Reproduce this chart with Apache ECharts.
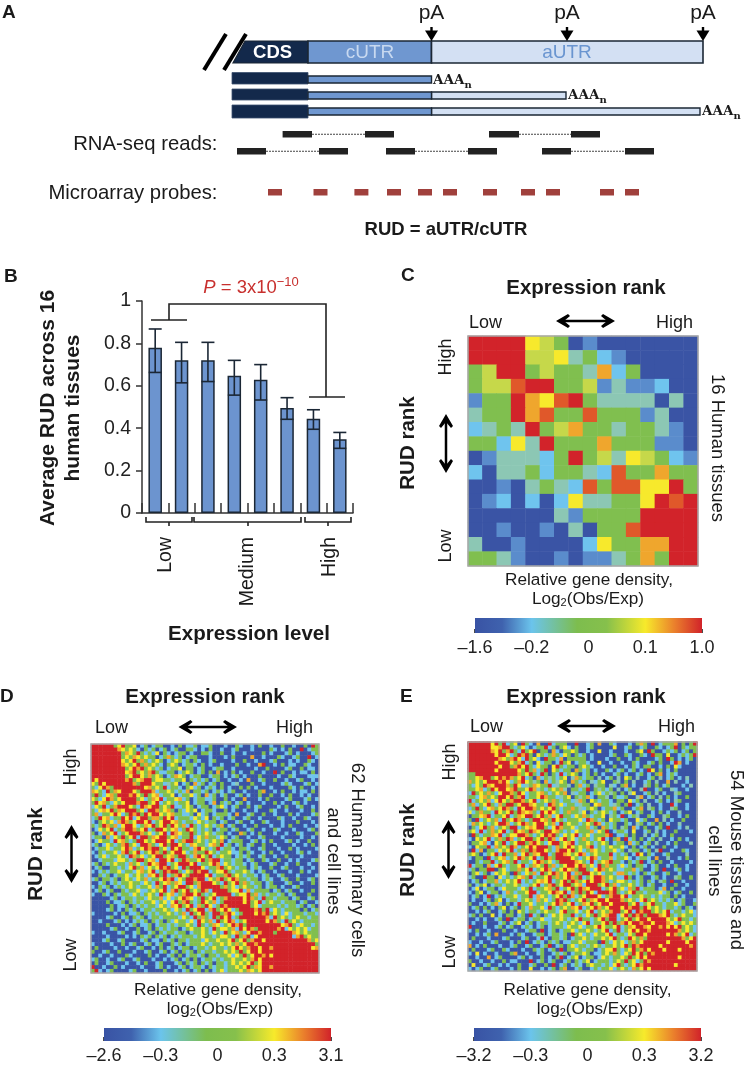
<!DOCTYPE html>
<html><head><meta charset="utf-8">
<style>html,body{margin:0;padding:0;background:#fff}#c{width:746px;height:1065px}</style>
<script src="https://cdn.jsdelivr.net/npm/echarts@6/dist/echarts.min.js"></script>
</head><body><div id="c"></div>
<script>
// ---------- Panel B data ----------
const barCategories = ['1','2','3','4','5','6','7','8'];
const rudMeans = [0.78,0.72,0.72,0.647,0.628,0.495,0.445,0.348];
const rudLow   = [0.663,0.614,0.62,0.556,0.533,0.442,0.395,0.305];
const rudHigh  = [0.868,0.805,0.805,0.72,0.70,0.544,0.487,0.38];
const yTicksB = [0,0.2,0.4,0.6,0.8,1];

// ---------- Panel A schematic, along-transcript coordinates ----------
const pASites = [431.5,567,703];
const readsTop = [[282.6,312,365,394],[489,519,571,600]];
const readsBottom = [[237,266,319,348],[386,415,468,497],[542,571,625,654]];
const probeStarts = [268,313.5,354.4,387,418,443,483,521,546,600,625];
const transcriptEnds = [431,566,700];

// ---------- Colour bar labels ----------
const barLabelsC = ['\u20131.6','\u20130.2','0','0.1','1.0'];
const barLabelsD = ['\u20132.6','\u20130.3','0','0.3','3.1'];
const barLabelsE = ['\u20133.2','\u20130.3','0','0.3','3.2'];

// ---------- Heat map cells: colour level 0 (lowest) .. 9 (highest), one string per row ----------
const heatC = [
'9999654010000000','9999556342100000','4599454437240000','4558994451311200',
'1449768943333030','3449784484441300','2343945744344310','4426394447444110',
'0133324945365421','2033424432844744','0010343284886694','0120202633446989',
'0000003144449999','0010010304489999','3001000026447799','4431001011347499'];
const heatD = [
'9999994694 4602402440 0204022402 2400020042 0020400200 4002004094',
'9999999764 6420424024 0240044202 0400200240 0020000420 2040090244',
'9999999947 6494242604 2024402004 4200400200 2000040200 0240200024',
'9999999946 4764644024 7424024400 0200020400 0070020004 2002400902',
'9999999964 6947424640 2464240420 0240000200 4002000240 0020200420',
'9999999976 4694746420 4640244204 0200200040 0200790020 4022004200',
'9999999994 6979464240 2446044024 0024400200 0002004000 0240040220',
'9999999996 7946479422 4402464024 0407020402 0040020090 4002022040',
'9999999994 6996474640 2476402440 0244020240 2000400002 0042000222',
'9699999997 9467994664 4244604242 4024002002 0700240040 0200240020',
'6496999999 9749996442 3460240724 0240400230 0040020000 2420002402',
'4269749999 9999674649 2442046240 2420402004 0402000200 0042040020',
'7642947699 9649997244 6424270442 4024202400 2000470020 4002022040',
'4942674999 7964946724 4602446240 7240240024 0200400400 2040020200',
'6426974699 9946247692 4467240244 2240040200 7000204000 0240002402',
'4967426469 9979946924 6424460244 0270424024 0200020040 2002402000',
'2649247999 6429769946 4922464024 4024620240 0402400002 0400240020',
'4267694769 9946299746 7404264602 4420040200 2002000420 0200020040',
'4724469624 9794969964 6744224062 4024442070 0240040020 0040200024',
'2496724496 9269947749 6924442642 6042402400 2400200004 2002004200',
'2046462797 4699692469 9674244264 2440240024 0020042000 2000400020',
'4249747269 9624769469 4964729424 6424702400 2004000200 2040002002',
'0264692479 9746924996 4672496424 2402440240 0240020042 0002000240',
'4027469246 9997462469 2976449424 6424402007 4020400020 0200420004',
'2440726494 6929947699 4672449264 7442640240 0200240000 2000020020',
'0264429674 2499646999 6924799464 2464702444 0024020400 0240200400',
'2402642479 4629974269 4996427644 2674924024 0240040020 0002002040',
'0244624469 7246979946 2969442796 4249244204 4200240002 0040200002',
'2042446279 4692469749 4699624744 9642446224 0420020400 2000240200',
'0246244642 9746246994 6749942796 4924644024 2400240020 0400020000',
'0024442664 2499467299 6924974469 4799244244 0240042004 0020200024',
'2404246442 7462496799 2469996924 4697264244 2024000240 0200400200',
'0240044242 6947264697 9462949996 2447946424 4024200400 2400020020',
'2024244624 4267469249 7994264979 9246694244 6420240020 0020040200',
'0042402446 2464276949 2479649999 6924479464 2442024002 4000200002',
'2404424046 4264724469 7926499799 2647946974 4244024200 2400400240',
'0024024244 6442642946 7476299479 9964294694 7424402400 0240020040',
'2042402424 6424462749 2469946279 9999474624 6442402440 2002400000',
'0240240042 4462246469 2794694649 7299994669 2724444024 0240020040',
'2004204244 2642464294 6724799694 2469999246 6947242442 4024000400',
'0000024024 4244264472 6246976249 4692479999 6974294424 4402400240',
'0000402240 4242446246 2694794249 6472499999 6946924644 2444024002',
'0000040224 0424244264 2769469274 9624979999 9946244442 4244240240',
'0000240204 2402442446 4264294699 2794696249 9997949264 2444404024',
'2000002040 2240424244 6424729469 4299479624 9996979464 2624442442',
'0000240024 0424024424 4442642947 4294969249 9999997294 6424644244',
'0020002402 0242404240 4264426296 4729469724 6999996974 2946424444',
'0000400020 2402240244 2424464294 2476246979 4999999999 6794264424',
'0000024002 0040240424 2440246446 4294664729 6974999997 9264646244',
'2002000240 0240024042 4424402446 4264294674 2699799949 9997646444',
'0000200002 0204240424 0242444246 4424664294 7926999999 9992794644',
'0002400240 0002402204 2404424442 6446446946 9479969999 9999999746',
'2000020040 2400240240 0424024446 4244646474 6997999999 9999999994',
'0400002002 0024002040 2402440244 2464424696 4799699799 9999999967',
'4002400400 0200240024 0240424042 4424464649 4699699999 9999999999',
'0020020004 2000040200 2404024424 0442446264 9469979699 9999999999',
'2400200240 0240002002 0240240402 4424244644 6479699999 9999999999',
'0400240002 0020400240 0024042404 2404424646 4694699999 9999999999',
'9002004020 0002000240 2002402442 0424424464 6947699799 9999999999',
'4920240000 2400200004 0020240240 4024624446 4764699999 9999999999'];
const heatE = [
'9999996949 2460942070 0924440090 0240700420 0020474090 2444704049',
'9999996679 9424620244 9240462040 0240000060 0240024004 2024904244',
'9999997694 7942946904 4072044640 0200600200 0200460940 0242402404',
'9999999699 6249794064 2474264042 4020000240 0420042094 4060024249',
'9999999976 4796294620 9442704444 4020002004 0020400002 4094020240',
'9999999699 9647924062 4402946024 4200600200 2004200240 4002970200',
'9999999969 9479694264 4069424404 6420020040 0204204400 2040620000',
'9999999699 9996494724 9064244074 2402004202 4024020960 4020400000',
'4499999999 9997469429 4042924640 2404020024 0200240204 7024200000',
'4467994697 9746924072 4342460374 2440302403 0640300240 3024020300',
'7464699979 6247964340 7243640742 4032460043 0403002403 0070300200',
'4264976999 7496234764 4923443047 2403440320 4702003404 0240002030',
'4467249699 6794469734 2464730442 4904342403 0240039002 4003200200',
'2946474269 9749624467 4246470324 4024624340 4036002403 0200340000',
'4426746499 6947924469 7442346043 4720443042 2400370240 3040200400',
'9246472696 4799746924 6474244237 4064244204 4062403002 4020340000',
'4724694274 9946997644 2974624423 4406744234 0490240300 2009200200',
'2494267469 7429699746 4694244743 2464024472 4002470340 2003400200',
'6247442964 6949767429 6964247443 6042464240 2460240020 4020030000',
'0446792446 9247699469 4726944264 7424460342 9024300420 0340020400',
'4092464729 4697424996 7496424446 2974240644 2400624007 0302004000',
'2746424699 7246974699 6472946442 4649724240 0420340240 4020030000',
'0426947246 4992467699 4269744624 4724074240 3407204002 4090020300',
'4629247469 2496749764 9967424264 4472649024 4206002403 0200400020',
'0942447692 4669974246 9794264692 4624447902 2404003024 0204000000',
'2064692474 9724699469 4972694624 7424692047 0924040240 3002040200',
'0446720649 2469947964 2699467924 4642464024 4072402403 0020400030',
'2064492746 4972469699 9427469646 4792424644 6204024020 0400200000',
'0927044264 6924749799 6427996946 2476424462 4034402403 9002004200',
'4640246929 4472694769 9249976469 7246444924 2402960420 0240000300',
'2044092467 2469746924 9749999642 4697244724 4620244207 0030020400',
'0042449246 7492442697 4624999976 4292467944 2042490240 4002000020',
'9244072694 2446924764 9472469969 7462947442 6240442024 0020400200',
'2404499046 2447469246 9724696749 9426974642 2447240024 0900240200',
'0462402646 4094264729 4697469274 9964624427 7424204240 0240020000',
'2400944062 4246749244 6947469749 2469974642 2940240024 0200340040',
'0240244724 6469242467 6924694974 6969974246 6424240420 3409002000',
'4024602442 4464224692 4794699467 2999469472 4464240240 0200400200',
'0260244026 4442649244 6749246949 7699924694 6274924440 2704002000',
'2046024402 7424469924 4697692749 4962999794 2469442444 6240240040',
'0240290242 4462449276 4246949724 6999624799 6924464424 2440402000',
'0200240460 2442464274 6249794246 9476996999 7464269464 2424024002',
'4002024720 4029446244 2469746924 7694699699 9946924694 4244624004',
'0240402046 0240427446 2942464769 2469746999 6979949646 4244240420',
'0020240024 0406424424 6442694462 4692464799 4692979946 4692442462',
'2404006020 4402409240 4264644924 2649467992 6949794999 7694246442',
'0020200240 9024402446 2244642469 4424694992 4694699699 9964694424',
'0200400024 0246024024 4246424642 6924469494 7969979969 9976246464',
'9000200240 2400242024 0244426446 2446964469 2476997699 7969694642',
'2040020004 0020024409 0240244624 4642469249 2469699799 9999974642',
'0020240700 0204200244 0244240946 2426446924 4264996999 9969746924',
'0400020002 4000240029 2044240244 6424464694 2496474999 9999997469',
'2002002400 0204090242 0424022446 2444094264 6247469999 9969999699',
'7020400020 0240024002 4902404624 4246424464 6949799999 6999999979',
'0400024004 2000200424 0240904464 2440246694 2469479699 9699969999',
'2060200200 0470020024 0024240244 6402246474 2649694979 9999999999',
'0020070240 0002402004 0204902460 2440264244 6494696999 9999969999',
'4002002004 0220009024 0240024042 4602444246 4946249799 9999999999',
'0600240020 2004002400 4090240242 0464424269 4246979999 9999699999',
'2024002400 0204006002 0240470024 0024244624 6427469699 9999999999'];

// ---------- Styling ----------
const levelColors = ['#3a54a5','#5a8ccc','#6fc4ee','#8cc7b4','#80bf4f','#c6d84a','#f7e92c','#efa62d','#e0582a','#d2232a'];
const gradientStops = [[0,'#3953a4'],[0.12,'#3f62ae'],[0.25,'#6bc4ec'],[0.45,'#7dbd4e'],[0.58,'#86c04c'],[0.75,'#f7ea2b'],[0.88,'#ea7f2c'],[1,'#d1232a']];
const FF = '"Liberation Sans", Arial, sans-serif';
const INK = '#1a1a1a';
const el = [];
const mctx = document.createElement('canvas').getContext('2d');
const fontStr = (s,b,i,f) => `${i?'italic ':''}${b?'bold ':''}${s}px ${f||FF}`;

function txt(x,y,t,size,o){o=o||{};
  el.push({type:'text',x,y,rotation:o.rot||0,z:50,silent:true,style:{text:t,font:fontStr(size,o.bold,o.italic,o.family),fill:o.color||INK,align:o.align||'center',verticalAlign:'middle'}});
}
function runs(x,y,list,o){o=o||{};
  let w=0; list.forEach(r=>{mctx.font=fontStr(r.size,r.bold,r.italic,r.family);r.w=mctx.measureText(r.t).width;w+=r.w;});
  let cx=(o.align==='left')?x:x-w/2;
  list.forEach(r=>{el.push({type:'text',x:cx,y:y+(r.dy||0),z:50,silent:true,style:{text:r.t,font:fontStr(r.size,r.bold,r.italic,r.family),fill:o.color||INK,align:'left',verticalAlign:'middle'}});cx+=r.w;});
}
function poly(points,width,color){el.push({type:'polyline',z:40,silent:true,shape:{points},style:{stroke:color||'#222',lineWidth:width,fill:'none',lineJoin:'miter'}});}
function filled(points,color){el.push({type:'polygon',z:40,silent:true,shape:{points},style:{fill:color||'#000'}});}
function arrowH(a,b,y){poly([[a+6,y],[b-6,y]],2.5,'#000');
  filled([[a,y],[a+12,y-7],[a+14,y-5],[a+8,y],[a+14,y+5],[a+12,y+7]]);
  filled([[b,y],[b-12,y-7],[b-14,y-5],[b-8,y],[b-14,y+5],[b-12,y+7]]);}
function arrowV(x,a,b){poly([[x,a+6],[x,b-6]],2.5,'#000');
  filled([[x,a],[x-7,a+12],[x-5,a+14],[x,a+8],[x+5,a+14],[x+7,a+12]]);
  filled([[x,b],[x-7,b-12],[x-5,b-14],[x,b-8],[x+5,b-14],[x+7,b-12]]);}
function frame(x,y,w,h){el.push({type:'rect',z:45,silent:true,shape:{x,y,width:w,height:h},style:{fill:'none',stroke:'#a8a8a8',lineWidth:1.5}});}

// ---------- Text and decoration: panel A ----------
txt(2,13,'A',19,{bold:true,align:'left'});
pASites.forEach(x=>txt(x,13,'pA',21));
txt(272.6,53,'CDS',18.5,{bold:true,color:'#ffffff'});
txt(370,53,'cUTR',19,{color:'#c8d9f0'});
txt(567,53,'aUTR',19,{color:'#6a95d0'});
poly([[226,34],[204,70]],4,'#000');
poly([[246,34],[224,70]],4,'#000');
const AAA='"DejaVu Serif", serif';
transcriptEnds.forEach((x,i)=>runs(x+2,80+i*15.5,[{t:'AAA',size:13.5,bold:true,family:AAA},{t:'n',size:10,bold:true,family:AAA,dy:5}],{align:'left'}));
txt(217.5,144,'RNA-seq reads:',20.3,{align:'right'});
txt(217.5,193,'Microarray probes:',20.3,{align:'right'});
txt(446,230,'RUD = aUTR/cUTR',18.5,{bold:true});

// ---------- Panel B ----------
txt(4,277,'B',19,{bold:true,align:'left'});
txt(48,408,'Average RUD across 16',21,{bold:true,rot:Math.PI/2});
txt(73,408,'human tissues',21,{bold:true,rot:Math.PI/2});
txt(249,634,'Expression level',20.5,{bold:true});
runs(251,288,[{t:'P',size:18.5,italic:true},{t:' = 3x10',size:18.5},{t:'\u221210',size:13,dy:-6}],{color:'#c8302e'});
poly([[151,320],[187,320]],1.6); poly([[169,320],[169,304],[326,304],[326,397]],1.6); poly([[309,397],[345,397]],1.6);
poly([[146,517],[146,522],[192,522],[192,517]],1.6); poly([[169,522],[169,526]],1.6);
poly([[194,517],[194,522],[301,522],[301,517]],1.6); poly([[248,522],[248,526]],1.6);
poly([[305,517],[305,522],[351,522],[351,517]],1.6); poly([[328,522],[328,526]],1.6);
txt(166,537,'Low',19.5,{rot:Math.PI/2,align:'right'});
txt(248,537,'Medium',19.5,{rot:Math.PI/2,align:'right'});
txt(330,537,'High',19.5,{rot:Math.PI/2,align:'right'});

// ---------- Heat panel decoration ----------
function heatDecor(p){
  if(p.letter) txt(p.letter[0],p.letter[1],p.letter[2],19,{bold:true,align:'left'});
  txt(p.titleX,p.titleY,'Expression rank',20.5,{bold:true});
  txt(p.lowX,p.lhY,'Low',18,{align:'left'});
  txt(p.highX,p.lhY,'High',18,{align:'right'});
  arrowH(p.ah[0],p.ah[1],p.ah[2]);
  txt(p.rankX,p.highY,'High',18,{rot:Math.PI/2});
  txt(p.rankX,p.lowY,'Low',18,{rot:Math.PI/2});
  arrowV(p.av[0],p.av[1],p.av[2]);
  txt(p.rudX,p.rudY,'RUD rank',20.5,{bold:true,rot:Math.PI/2});
  p.side.forEach(s=>txt(s[0],s[1],s[2],18.5,{rot:-Math.PI/2}));
  txt(p.capX,p.capY,'Relative gene density,',17.2);
  runs(p.cap2X,p.capY+19,[{t:p.logWord,size:17.2},{t:'2',size:11,dy:4},{t:'(Obs/Exp)',size:17.2}]);
  frame(p.g[0],p.g[1],p.g[2],p.g[3]);
}
const panelC={letter:[401,276,'C'],titleX:586,titleY:288,lowX:469,highX:693,lhY:323,ah:[556,615,321],rankX:446,highY:357,lowY:546,av:[446,414,473],rudX:408,rudY:443,side:[[717,448,'16 Human tissues']],capX:589,capY:580,cap2X:588,logWord:'Log',g:[468,336,230,230]};
const panelD={letter:[0,697,'D'],titleX:205,titleY:697,lowX:95,highX:313,lhY:728,ah:[178.5,237,727],rankX:71.5,highY:767,lowY:955,av:[71.5,825,883],rudX:36,rudY:854,side:[[357,860,'62 Human primary cells'],[333,861,'and cell lines']],capX:218,capY:990,cap2X:220,logWord:'log',g:[91,744,228,229]};
const panelE={letter:[400,697,'E'],titleX:586,titleY:697,lowX:470,highX:695,lhY:727,ah:[557,616,726],rankX:450,highY:762,lowY:952,av:[448.5,820,879],rudX:408.5,rudY:850,side:[[736,860,'54 Mouse tissues and'],[714,861,'cell lines']],capX:587.5,capY:990,cap2X:590,logWord:'log',g:[468,742,229,229]};
[panelC,panelD,panelE].forEach(heatDecor);

// ---------- Option build ----------
const cellsOf = rows => { const out=[]; rows.forEach((s,r)=>{ s.replace(/ /g,'').split('').forEach((d,c)=>out.push([c,r,+d])); }); return out; };
const idx = n => Array.from({length:n},(_,i)=>String(i));
const rowLen = rows => rows[0].replace(/ /g,'').length;

const grids=[], xAxes=[], yAxes=[], series=[];
// 0: page-wide schematic plane
grids.push({left:0,top:0,width:746,height:1065});
xAxes.push({type:'value',gridIndex:0,min:0,max:746,show:false});
yAxes.push({type:'value',gridIndex:0,min:0,max:1065,inverse:true,show:false});

function rectSeries(rows,fill,stroke,lw){
  series.push({type:'custom',xAxisIndex:0,yAxisIndex:0,silent:true,clip:false,data:rows,z:5,
    renderItem:(p,api)=>{const a=api.coord([api.value(0),api.value(2)]),b=api.coord([api.value(1),api.value(3)]);
      return {type:'rect',shape:{x:a[0],y:a[1],width:b[0]-a[0],height:b[1]-a[1]},style:{fill,stroke:stroke||null,lineWidth:lw||0}};},
    encode:{x:[0,1],y:[2,3]}});
}
const DARK='#13294b', CU='#6f97d0', AU='#d3e0f3', EDGE='#1b2735';
// main transcript
series.push({type:'custom',xAxisIndex:0,yAxisIndex:0,silent:true,clip:false,z:5,data:[[245,308,233,41,63]],encode:{x:[0,1],y:[3,4]},
  renderItem:(p,api)=>{const A=api.coord([api.value(0),api.value(3)]),B=api.coord([api.value(1),api.value(3)]),C=api.coord([api.value(1),api.value(4)]),D=api.coord([api.value(2),api.value(4)]);
    return {type:'polygon',shape:{points:[A,B,C,D]},style:{fill:DARK,stroke:EDGE,lineWidth:1.2}};}});
rectSeries([[308,431.5,41,63]],CU,EDGE,1.6);
rectSeries([[431.5,703,41,63]],AU,EDGE,1.6);
// isoform rows
rectSeries([[232,308,72.5,84],[232,308,89,100],[232,308,105,118]],DARK,'#3c5070',0.8);
rectSeries(transcriptEnds.map((e,i)=>[431.5,e,[76,92,108][i],[83,99,115][i]]).slice(1),AU,EDGE,1.4);
rectSeries([[308,431.5,76,83],[308,431.5,92,99],[308,431.5,108,115]],CU,EDGE,1.4);
// pA markers
series.push({type:'custom',xAxisIndex:0,yAxisIndex:0,silent:true,clip:false,z:6,data:pASites.map(x=>[x]),encode:{x:0},
  renderItem:(p,api)=>{const t=api.coord([api.value(0),41]),y=t[1],x=t[0];
    return {type:'group',children:[{type:'rect',shape:{x:x-1.2,y:y-14,width:2.4,height:6},style:{fill:'#000'}},
      {type:'polygon',shape:{points:[[x,y],[x-6.5,y-10.5],[x+6.5,y-10.5]]},style:{fill:'#000'}}]};}});
// reads
function readSeries(pairs,y0,y1){
  series.push({type:'custom',xAxisIndex:0,yAxisIndex:0,silent:true,clip:false,z:5,data:pairs,encode:{x:[0,3]},
    renderItem:(p,api)=>{const v=[0,1,2,3].map(i=>api.coord([api.value(i),y0])[0]);const t=api.coord([0,y0])[1],b=api.coord([0,y1])[1];
      return {type:'group',children:[
        {type:'line',shape:{x1:v[1],y1:(t+b)/2,x2:v[2],y2:(t+b)/2},style:{stroke:'#444',lineWidth:1,lineDash:[2,1]}},
        {type:'rect',shape:{x:v[0],y:t,width:v[1]-v[0],height:b-t},style:{fill:'#222'}},
        {type:'rect',shape:{x:v[2],y:t,width:v[3]-v[2],height:b-t},style:{fill:'#222'}}]};}});
}
readSeries(readsTop,131,137.5);
readSeries(readsBottom,148,154.5);
rectSeries(probeStarts.map(x=>[x,x+14,189,195.5]),'#a0403c');

// 1: bar chart
grids.push({left:142,top:301,width:211,height:212});
xAxes.push({type:'category',gridIndex:1,data:barCategories,axisLabel:{show:false},axisLine:{lineStyle:{color:'#333',width:1.5}},axisTick:{show:true,inside:true,length:10,alignWithLabel:false,lineStyle:{color:'#333',width:1.5}}});
yAxes.push({type:'value',gridIndex:1,min:yTicksB[0],max:yTicksB[yTicksB.length-1],interval:0.2,splitLine:{show:false},axisLine:{show:true,lineStyle:{color:'#333',width:1.5}},axisTick:{show:true,length:6,lineStyle:{color:'#333',width:1.5}},axisLabel:{fontFamily:FF,fontSize:19.5,color:'#222',margin:11}});
series.push({type:'bar',xAxisIndex:1,yAxisIndex:1,data:rudMeans,barWidth:13.5,silent:true,itemStyle:{color:'#6c94cf',borderColor:'#1b2735',borderWidth:1.5}});
series.push({type:'custom',xAxisIndex:1,yAxisIndex:1,silent:true,z:5,data:barCategories.map((c,i)=>[i,rudLow[i],rudHigh[i]]),encode:{x:0,y:[1,2]},
  renderItem:(p,api)=>{const a=api.coord([api.value(0),api.value(1)]),b=api.coord([api.value(0),api.value(2)]);const h=6.5,s={stroke:'#1b2735',lineWidth:1.6};
    return {type:'group',children:[
      {type:'line',shape:{x1:a[0],y1:a[1],x2:b[0],y2:b[1]},style:s},
      {type:'line',shape:{x1:a[0]-h,y1:a[1],x2:a[0]+h,y2:a[1]},style:s},
      {type:'line',shape:{x1:b[0]-h,y1:b[1],x2:b[0]+h,y2:b[1]},style:s}]};}});

// 2-4: heat maps
const heatIdx=[];
[[panelC,heatC],[panelD,heatD],[panelE,heatE]].forEach(([p,rows])=>{
  const gi=grids.length, n=rowLen(rows);
  grids.push({left:p.g[0],top:p.g[1],width:p.g[2],height:p.g[3]});
  xAxes.push({type:'category',gridIndex:gi,data:idx(n),show:false});
  yAxes.push({type:'category',gridIndex:gi,data:idx(rows.length),inverse:true,show:false});
  heatIdx.push(series.length);
  series.push({type:'heatmap',xAxisIndex:gi,yAxisIndex:gi,data:cellsOf(rows),silent:true,itemStyle:{borderWidth:0}});
});

// 5-7: colour bars
[[475,618,227,15,barLabelsC],[104,1028,227,14,barLabelsD],[474,1028,227,14,barLabelsE]].forEach(([l,t,w,h,labels])=>{
  const gi=grids.length;
  grids.push({left:l,top:t,width:w,height:h});
  xAxes.push({type:'value',gridIndex:gi,min:0,max:4,interval:1,splitLine:{show:false},
    axisLine:{lineStyle:{color:'#111',width:1.5}},axisTick:{show:true,inside:true,length:4,lineStyle:{color:'#111',width:1.5}},
    axisLabel:{fontFamily:FF,fontSize:18,color:'#222',margin:6,showMinLabel:true,showMaxLabel:true,formatter:v=>labels[Math.round(v)]}});
  yAxes.push({type:'category',gridIndex:gi,data:['bar'],show:false});
  series.push({type:'bar',xAxisIndex:gi,yAxisIndex:gi,data:[4],barWidth:'100%',silent:true,
    itemStyle:{color:new echarts.graphic.LinearGradient(0,0,1,0,gradientStops.map(s=>({offset:s[0],color:s[1]})))}});
});

const chart=echarts.init(document.getElementById('c'),null,{renderer:'canvas',width:746,height:1065});
chart.setOption({
  backgroundColor:'#fff',animation:false,tooltip:{show:false},
  grid:grids,xAxis:xAxes,yAxis:yAxes,series,
  visualMap:[{type:'piecewise',show:false,seriesIndex:heatIdx,dimension:2,pieces:levelColors.map((c,i)=>({value:i,color:c}))}],
  graphic:{elements:el}
});
</script></body></html>
